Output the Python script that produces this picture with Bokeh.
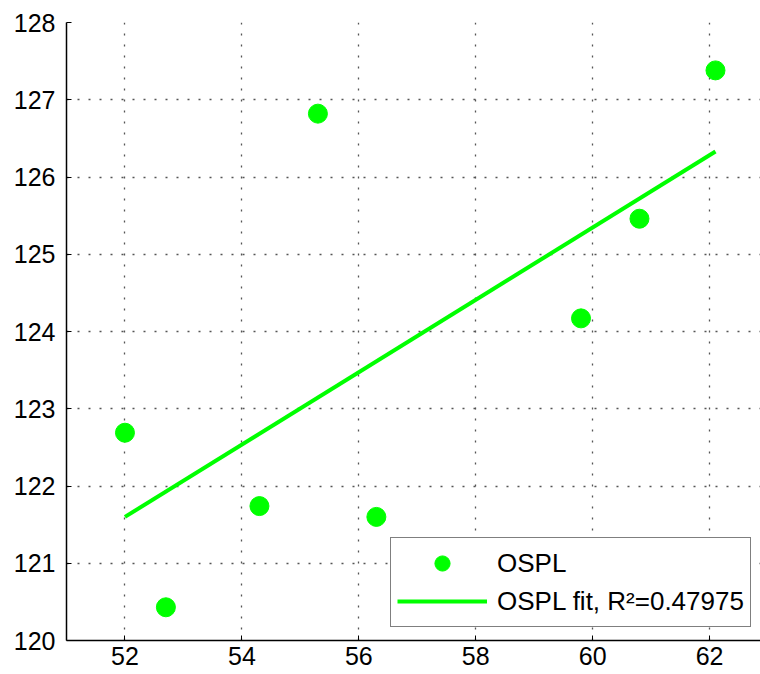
from bokeh.plotting import figure
from bokeh.models import Range1d, FixedTicker, Legend, LegendItem
from bokeh.embed import file_html
from bokeh.resources import INLINE

# Data
ospl_x = [52.0, 52.7, 54.3, 55.3, 56.3, 59.8, 60.8, 62.1]
ospl_y = [122.69, 120.43, 121.74, 126.82, 121.60, 124.17, 125.46, 127.38]
fit_x = [52.0, 62.1]
fit_y = [121.60, 126.33]
x_ticks = [52, 54, 56, 58, 60, 62]
y_ticks = [120, 121, 122, 123, 124, 125, 126, 127, 128]
series_label = "OSPL"
fit_label = "OSPL fit, R\u00b2=0.47975"

GREEN = "#00ff00"
FONT = "Liberation Sans"

p = figure(width=760, height=674, output_backend="svg", toolbar_location=None,
           x_range=Range1d(51, 62.87), y_range=Range1d(120, 128),
           min_border_left=66, min_border_right=0, min_border_top=22, min_border_bottom=34)
p.outline_line_color = None
p.background_fill_color = "white"
p.border_fill_color = "white"

fit_r = p.line(fit_x, fit_y, line_color=GREEN, line_width=4)
pts_r = p.scatter(ospl_x, ospl_y, size=19, fill_color=GREEN, line_color=GREEN)

for ax in (p.xaxis[0], p.yaxis[0]):
    ax.axis_line_color = "black"
    ax.axis_line_width = 1.5
    ax.major_tick_in = 5
    ax.major_tick_out = 0
    ax.minor_tick_in = 0
    ax.minor_tick_out = 0
    ax.major_tick_line_color = "black"
    ax.major_label_text_font = FONT
    ax.major_label_text_font_size = "25px"
    ax.major_label_text_color = "black"
p.xaxis[0].ticker = FixedTicker(ticks=x_ticks)
p.yaxis[0].ticker = FixedTicker(ticks=y_ticks)
p.xaxis[0].major_label_standoff = 6
p.yaxis[0].major_label_standoff = 11

for g in (p.xgrid[0], p.ygrid[0]):
    g.grid_line_color = "#555555"
    g.grid_line_dash = "2 9"
    g.grid_line_width = 1.3
p.xgrid[0].ticker = FixedTicker(ticks=x_ticks)
p.ygrid[0].ticker = FixedTicker(ticks=y_ticks)

legend = Legend(items=[LegendItem(label=series_label, renderers=[pts_r]),
                       LegendItem(label=fit_label, renderers=[fit_r])],
                location=(324, 13))
legend.border_line_color = "black"
legend.border_line_width = 1
legend.background_fill_color = "white"
legend.background_fill_alpha = 1
legend.padding = 6
legend.spacing = 0
legend.glyph_height = 38
legend.glyph_width = 90
legend.label_standoff = 10
legend.label_text_font = FONT
legend.label_text_font_size = "26px"
legend.label_text_color = "black"
legend.margin = 0
p.add_layout(legend, "center")

open("out.html", "w").write(file_html(p, INLINE))
